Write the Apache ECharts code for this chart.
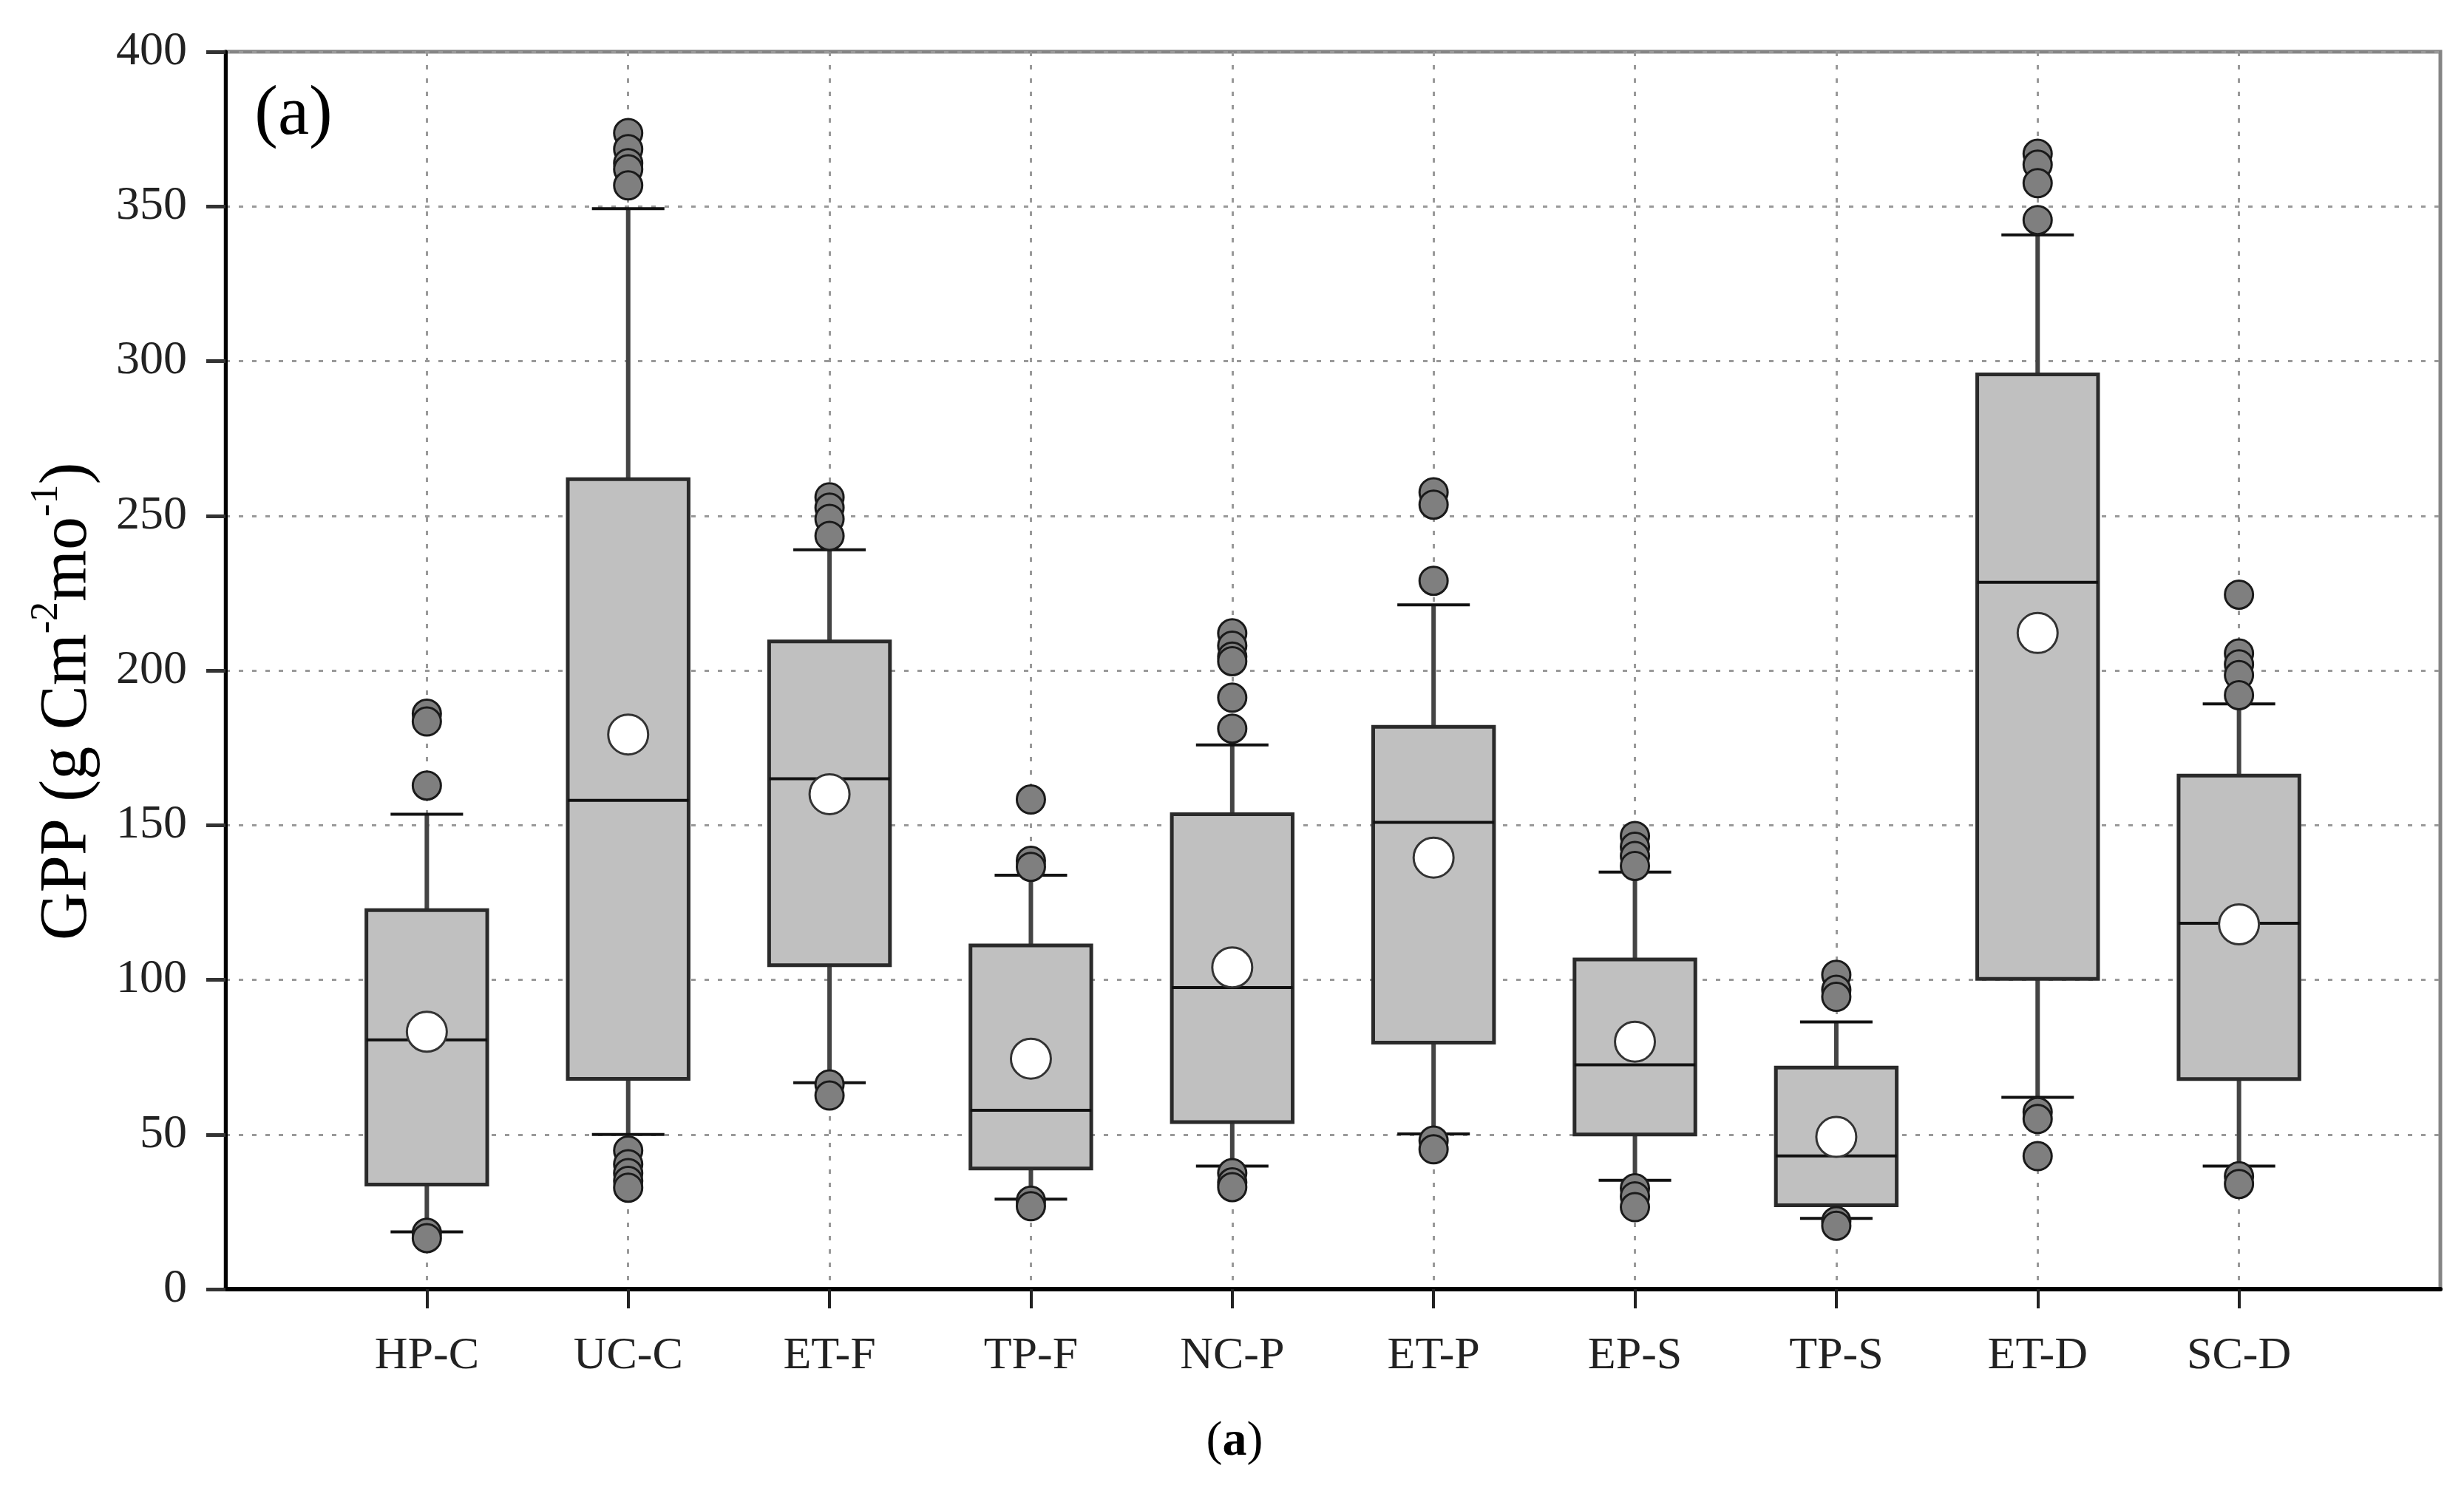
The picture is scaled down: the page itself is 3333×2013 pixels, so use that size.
<!DOCTYPE html>
<html>
<head>
<meta charset="utf-8">
<script src="https://cdn.jsdelivr.net/npm/echarts@6/dist/echarts.min.js"></script>
<style>
  html, body { margin: 0; padding: 0; background: #fff; }
  #chart { width: 3333px; height: 2013px; }
</style>
</head>
<body>
<div id="chart"></div>
<script>
// GPP per vegetation type (g C m-2 mo-1)
const categories = ['HP-C', 'UC-C', 'ET-F', 'TP-F', 'NC-P', 'ET-P', 'EP-S', 'TP-S', 'ET-D', 'SC-D'];
const whiskerLow  = [18.5, 50.0, 66.7, 29.1, 39.8, 50.2, 35.2, 22.9, 62.0, 39.8];
const q1          = [33.8, 68.0, 104.7, 39.0, 54.0, 79.7, 50.0, 27.1, 100.3, 67.9];
const median      = [80.6, 158.0, 165.0, 57.8, 97.5, 150.9, 72.5, 43.1, 228.5, 118.3];
const q3          = [122.5, 261.8, 209.4, 111.1, 153.5, 181.8, 106.6, 71.6, 295.7, 166.0];
const whiskerHigh = [153.5, 349.3, 239.0, 133.8, 175.9, 221.2, 134.8, 86.4, 340.8, 189.2];
const means       = [83.2, 179.3, 160.0, 74.5, 104.0, 139.5, 80.0, 49.2, 212.1, 117.9];
const outliers = [
  [186, 183.5, 162.8, 18.2, 16.5],
  [373.7, 368.5, 364, 362, 356.8, 44.8, 40.4, 37.5, 35, 32.8],
  [256, 252.6, 249, 243.5, 66.2, 62.6],
  [158.3, 138.5, 136.5, 28.6, 26.8],
  [212, 208, 204.5, 203, 191.2, 181.2, 37.5, 34.5, 33],
  [257.6, 253.6, 229, 48, 45.2],
  [146.5, 143, 140, 136.8, 32.6, 30, 26.5],
  [101.6, 96.8, 94.5, 22, 20.5],
  [367, 363.5, 357.5, 345.6, 57.3, 55, 43],
  [224.5, 205.5, 202, 198.5, 192, 36.5, 34]
];
const yTicks = { min: 0, max: 400, interval: 50 };

// empty slot at both ends so the boxes sit at 1..10 of 11
const axisCats = [''].concat(categories, ['']);
const inside = (i) => i > 0 && i < axisCats.length - 1;

const boxData = categories.map((c, i) => [i + 1, whiskerLow[i], q1[i], median[i], q3[i], whiskerHigh[i]]);
const meanData = means.map((v, i) => [i + 1, v]);
let outlierData = [];
outliers.forEach((arr, i) => {
  arr.forEach(v => outlierData.push([i + 1, v]));
});

const serif = 'Liberation Serif';

function renderBox(params, api) {
  const x = api.value(0);
  const lo = api.coord([x, api.value(1)]);
  const b1 = api.coord([x, api.value(2)]);
  const md = api.coord([x, api.value(3)]);
  const b3 = api.coord([x, api.value(4)]);
  const hi = api.coord([x, api.value(5)]);
  const band = api.size([1, 0])[0];
  const half = band * 0.3;
  const cap = band * 0.18;
  const cx = lo[0];
  const whisker = { stroke: '#444', lineWidth: 6 };
  const capStyle = { stroke: '#111', lineWidth: 4 };
  return {
    type: 'group',
    children: [
      { type: 'line', shape: { x1: cx, y1: lo[1], x2: cx, y2: b1[1] }, style: whisker },
      { type: 'line', shape: { x1: cx, y1: b3[1], x2: cx, y2: hi[1] }, style: whisker },
      { type: 'line', shape: { x1: cx - cap, y1: lo[1], x2: cx + cap, y2: lo[1] }, style: capStyle },
      { type: 'line', shape: { x1: cx - cap, y1: hi[1], x2: cx + cap, y2: hi[1] }, style: capStyle },
      {
        type: 'rect',
        shape: { x: cx - half, y: b3[1], width: half * 2, height: b1[1] - b3[1] },
        style: { fill: '#c0c0c0', stroke: '#2a2a2a', lineWidth: 5 }
      },
      { type: 'line', shape: { x1: cx - half, y1: md[1], x2: cx + half, y2: md[1] }, style: { stroke: '#111', lineWidth: 4 } }
    ]
  };
}

const myChart = echarts.init(document.getElementById('chart'));
myChart.setOption({
  backgroundColor: '#fff',
  animation: false,
  grid: {
    left: 305,
    right: 32,
    top: 70,
    bottom: 269,
    show: true,
    borderColor: '#858585',
    borderWidth: 5,
    backgroundColor: 'transparent'
  },
  xAxis: {
    type: 'category',
    data: axisCats,
    boundaryGap: false,
    axisLine: { lineStyle: { color: '#000', width: 6 } },
    axisTick: { show: true, interval: inside, length: 26, lineStyle: { color: '#222', width: 4 } },
    axisLabel: { interval: 0, margin: 60, color: '#222', fontFamily: serif, fontSize: 62 },
    splitLine: { show: true, interval: inside, lineStyle: { color: '#999', width: 3, type: [6, 12] } }
  },
  yAxis: {
    type: 'value',
    min: yTicks.min,
    max: yTicks.max,
    interval: yTicks.interval,
    axisLine: { show: true, lineStyle: { color: '#000', width: 5 } },
    axisTick: { show: true, length: 26, lineStyle: { color: '#333', width: 5 } },
    axisLabel: { margin: 52, color: '#222', fontFamily: serif, fontSize: 64 },
    splitLine: { show: true, lineStyle: { color: '#999', width: 3, type: [6, 12] } }
  },
  graphic: [
    {
      type: 'text',
      x: 92,
      y: 949,
      rotation: Math.PI / 2,
      style: {
        text: '{n|GPP (g Cm}{s|-2}{n|mo}{s|-1}{n|)}',
        align: 'center',
        verticalAlign: 'middle',
        fill: '#000',
        rich: {
          n: { fontFamily: serif, fontSize: 90, lineHeight: 110, fill: '#000' },
          s: { fontFamily: serif, fontSize: 52, verticalAlign: 'top', fill: '#000' }
        }
      }
    },
    {
      type: 'text',
      x: 397,
      y: 156,
      style: { text: '(a)', fontFamily: serif, fontSize: 95, fill: '#000', align: 'center', verticalAlign: 'middle' }
    },
    {
      type: 'text',
      x: 1670,
      y: 1951,
      style: {
        text: '{p|(}{b|a}{p|)}',
        align: 'center',
        verticalAlign: 'middle',
        rich: {
          p: { fontFamily: serif, fontSize: 66, fill: '#000' },
          b: { fontFamily: serif, fontSize: 66, fontWeight: 'bold', fill: '#000' }
        }
      }
    }
  ],
  series: [
    {
      name: 'box',
      type: 'custom',
      renderItem: renderBox,
      encode: { x: 0, y: [1, 2, 3, 4, 5] },
      data: boxData,
      z: 2
    },
    {
      name: 'outliers',
      type: 'scatter',
      symbol: 'circle',
      symbolSize: 38,
      itemStyle: { color: '#7f7f7f', borderColor: '#1a1a1a', borderWidth: 3, opacity: 1 },
      data: outlierData,
      z: 3
    },
    {
      name: 'mean',
      type: 'scatter',
      symbol: 'circle',
      symbolSize: 54,
      itemStyle: { color: '#fff', borderColor: '#333', borderWidth: 3, opacity: 1 },
      data: meanData,
      z: 4
    }
  ]
})
</script>
</body>
</html>
